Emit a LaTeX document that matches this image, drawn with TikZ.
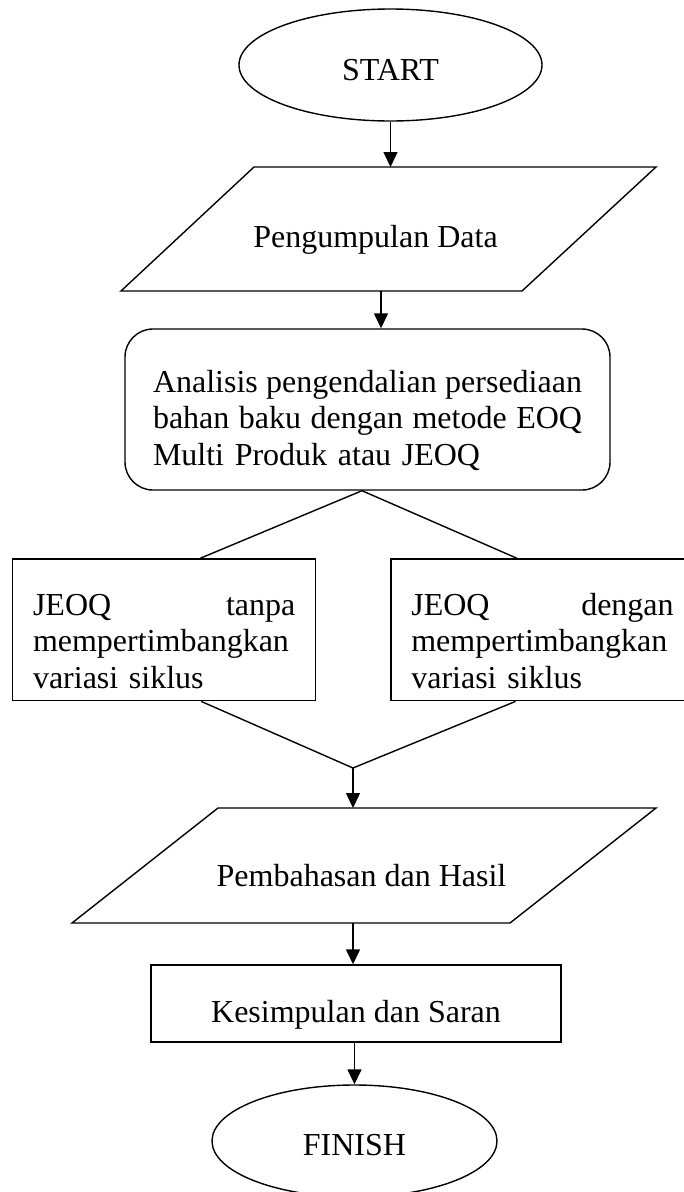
\documentclass[tikz,border=0pt]{standalone}
\usepackage{fontspec}
\setmainfont{Liberation Serif}
\usetikzlibrary{arrows.meta,shapes.geometric,calc}
\newcommand{\fullline}[2]{\leavevmode\hbox to #1{#2}}
\begin{document}
\begin{tikzpicture}[x=1pt,y=-1pt,
  every node/.style={font=\fontsize{32}{36.5}\selectfont, inner sep=0pt},
  line/.style={line width=1.4pt, draw=black},
  arr/.style={line, -{Triangle[length=15pt,width=14pt]}},
  term/.style={ellipse, line, minimum height=112pt, text depth=0pt},
  box/.style={rectangle, line},
  sidebox/.style={box, minimum width=303pt, minimum height=141.7pt, text width=262.4pt,
                  align=left, text height=20pt, text depth=49.7pt}
]
\useasboundingbox (0,0) rectangle (684,1192);
\clip (0,0) rectangle (684,1192);

% START
\node[term, minimum width=303pt, text height=30pt] (start) at (390.5,65) {START};

% Pengumpulan Data (parallelogram)
\draw[line] (254,167) -- (656,167) -- (522,291) -- (121,291) -- cycle;
\node[anchor=base] (pd) at (375.5,247) {Pengumpulan Data};
\coordinate (pdT) at (391,167);
\coordinate (pdB) at (381,291);

% Analisis
\node[box, rounded corners=28pt, minimum width=485pt, minimum height=161pt,
      text width=429pt, align=left, text height=20pt, text depth=55pt] (ana) at (367.5,409.5)
  {\fullline{429pt}{Analisis\hfil pengendalian\hfil persediaan}\\\fullline{429pt}{bahan\hfil baku\hfil dengan\hfil metode\hfil EOQ}\\Multi Produk atau JEOQ};
\coordinate (apex) at ([xshift=-5.5pt]ana.south);

% two branches
\node[sidebox] (lb) at (164.2,629.85)
  {\fullline{262.4pt}{JEOQ\hfill tanpa}\\mempertimbangkan\\variasi siklus};
\node[sidebox] (rb) at (542.5,629.85)
  {\fullline{262.4pt}{JEOQ\hfill dengan}\\mempertimbangkan\\variasi siklus};
\coordinate (j) at (353,768);

% Pembahasan dan Hasil (parallelogram)
\draw[line] (218,808) -- (656,808) -- (510,923) -- (72,923) -- cycle;
\node[anchor=base] (ph) at (361.5,886) {Pembahasan dan Hasil};
\coordinate (phT) at (353,808);
\coordinate (phB) at (353,923);

% Kesimpulan
\node[box, minimum width=410pt, minimum height=77pt, text height=37pt, text depth=0pt] (ks) at (356,1003.5) {Kesimpulan dan Saran};

% FINISH
\node[term, minimum width=285pt, text height=28pt] (fin) at (354.5,1141) {FINISH};

% connectors
\draw[arr] (start.south) -- (start.south |- pdT);
\draw[arr] (pdB) -- (pdB |- ana.north);
\draw[line] (apex) -- ([xshift=36pt]lb.north);
\draw[line] (apex) -- ([xshift=-25.5pt]rb.north);
\draw[line] ([xshift=37pt]lb.south) -- (j) -- ([xshift=-27pt]rb.south);
\draw[arr] (j) -- (phT);
\draw[arr] (phB) -- (phB |- ks.north);
\draw[arr] (fin.north |- ks.south) -- (fin.north);
\end{tikzpicture}
\end{document}
